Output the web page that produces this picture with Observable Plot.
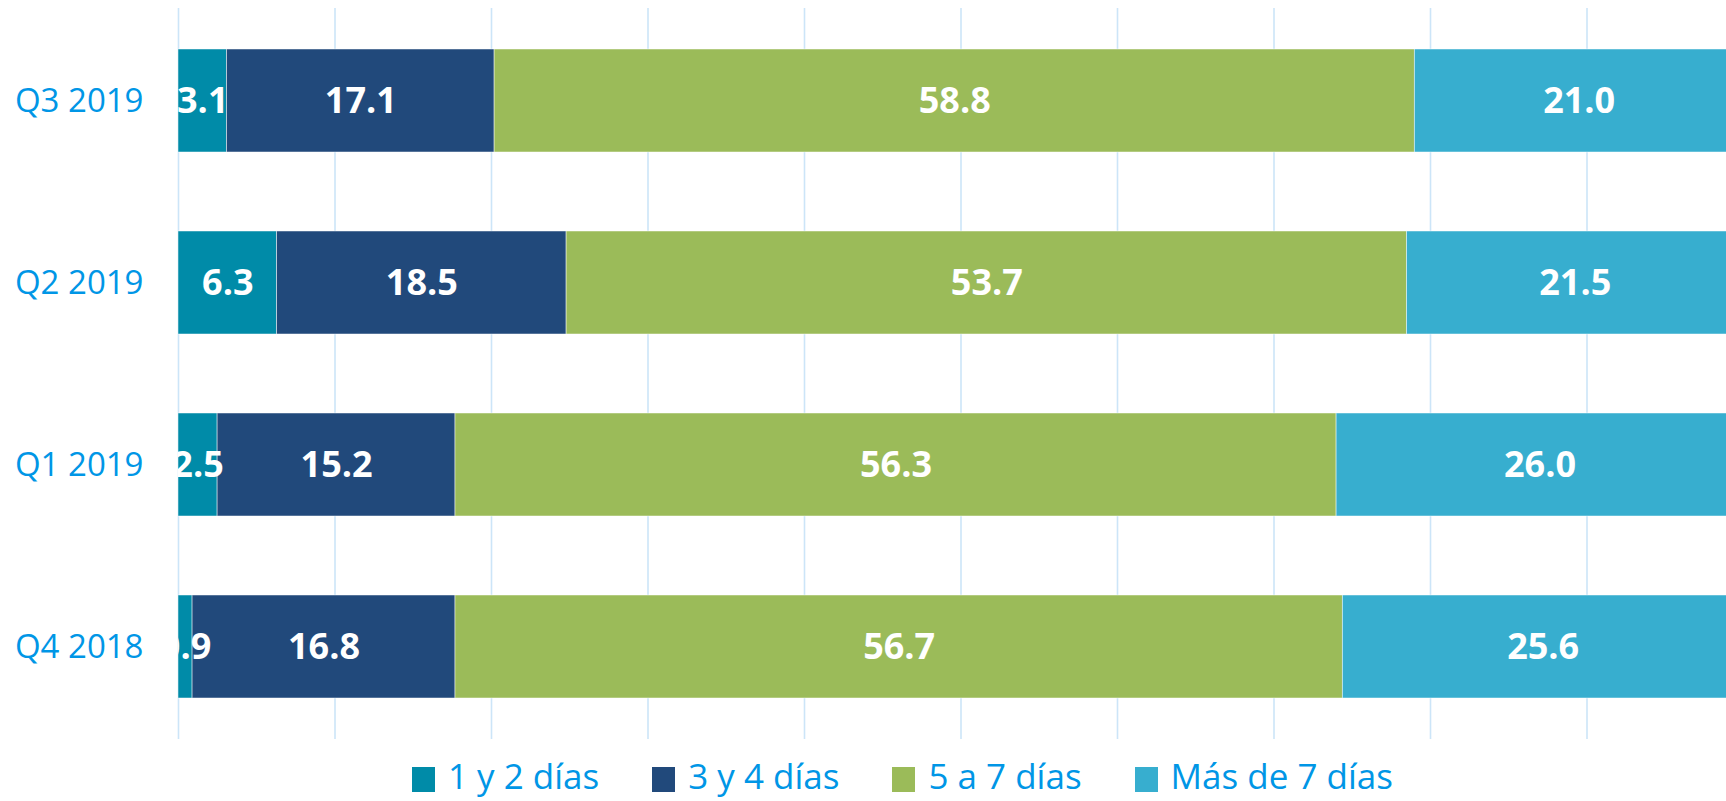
<!DOCTYPE html>
<html>
<head>
<meta charset="utf-8">
<script src="https://cdn.jsdelivr.net/npm/d3@7"></script>
<script src="https://cdn.jsdelivr.net/npm/@observablehq/plot@0.6"></script>
<style>
  html, body { margin: 0; padding: 0; background: #fff; overflow: hidden; }
  #wrap { width: 1726px; height: 801px; overflow: hidden; position: relative; font-family: "Open Sans", sans-serif; }
  #chart svg { max-width: none !important; }
  #legend { position: absolute; left: 412px; top: 756px; display: flex; align-items: center; gap: 53px; white-space: nowrap; }
  .item { display: flex; align-items: center; gap: 13px; color: #0096E6; font-size: 35px; line-height: 40px; }
  .sw { width: 23px; height: 25px; display: inline-block; margin-top: 6px; }
</style>
</head>
<body>
<div id="wrap"><div id="chart"></div><div id="legend"></div></div>
<script>
const quarters = ["Q3 2019", "Q2 2019", "Q1 2019", "Q4 2018"];
const seriesNames = ["1 y 2 días", "3 y 4 días", "5 a 7 días", "Más de 7 días"];
const v1y2 = [3.1, 6.3, 2.5, 0.9];
const v3y4 = [17.1, 18.5, 15.2, 16.8];
const v5a7 = [58.8, 53.7, 56.3, 56.7];
const vMas7 = [21.0, 21.5, 26.0, 25.6];
const seriesColors = ["#008BA8", "#21497B", "#9BBB59", "#37AECF"];
const xTicks = [0, 10, 20, 30, 40, 50, 60, 70, 80, 90, 100];

const seriesValues = [v1y2, v3y4, v5a7, vMas7];
const rows = [];
quarters.forEach((q, i) => {
  seriesNames.forEach((s, j) => {
    rows.push({quarter: q, series: s, value: seriesValues[j][i]});
  });
});

const chart = Plot.plot({
  width: 1743,
  height: 739,
  marginLeft: 178,
  marginRight: 0,
  marginTop: 8,
  marginBottom: 0,
  style: {fontFamily: "'Open Sans', sans-serif", color: "#0096E6", background: "#fff"},
  x: {domain: [0, 100], axis: null},
  y: {domain: quarters, paddingInner: 0.433, paddingOuter: 0.2165, label: null},
  color: {domain: seriesNames, range: seriesColors},
  marks: [
    Plot.ruleX(xTicks, {stroke: "#CCE5F8", strokeWidth: 1.6}),
    Plot.barX(rows, Plot.stackX({x: "value", y: "quarter", z: "series", fill: "series", stroke: "#fff", strokeWidth: 0.8, strokeOpacity: 0.6})),
    Plot.text(rows, Plot.stackX({x: "value", y: "quarter", z: "series", text: d => d.value.toFixed(1), fill: "#fff", fontSize: 36, fontWeight: "bold", clip: true})),
    Plot.axisY({tickSize: 0, tickPadding: 35, fontSize: 33, label: null})
  ]
});
document.getElementById("chart").appendChild(chart);

const legend = document.getElementById("legend");
seriesNames.forEach((s, j) => {
  const it = document.createElement("div");
  it.className = "item";
  const sw = document.createElement("span");
  sw.className = "sw";
  sw.style.background = seriesColors[j];
  const tx = document.createElement("span");
  tx.textContent = s;
  it.appendChild(sw);
  it.appendChild(tx);
  legend.appendChild(it);
});
</script>
</body>
</html>
